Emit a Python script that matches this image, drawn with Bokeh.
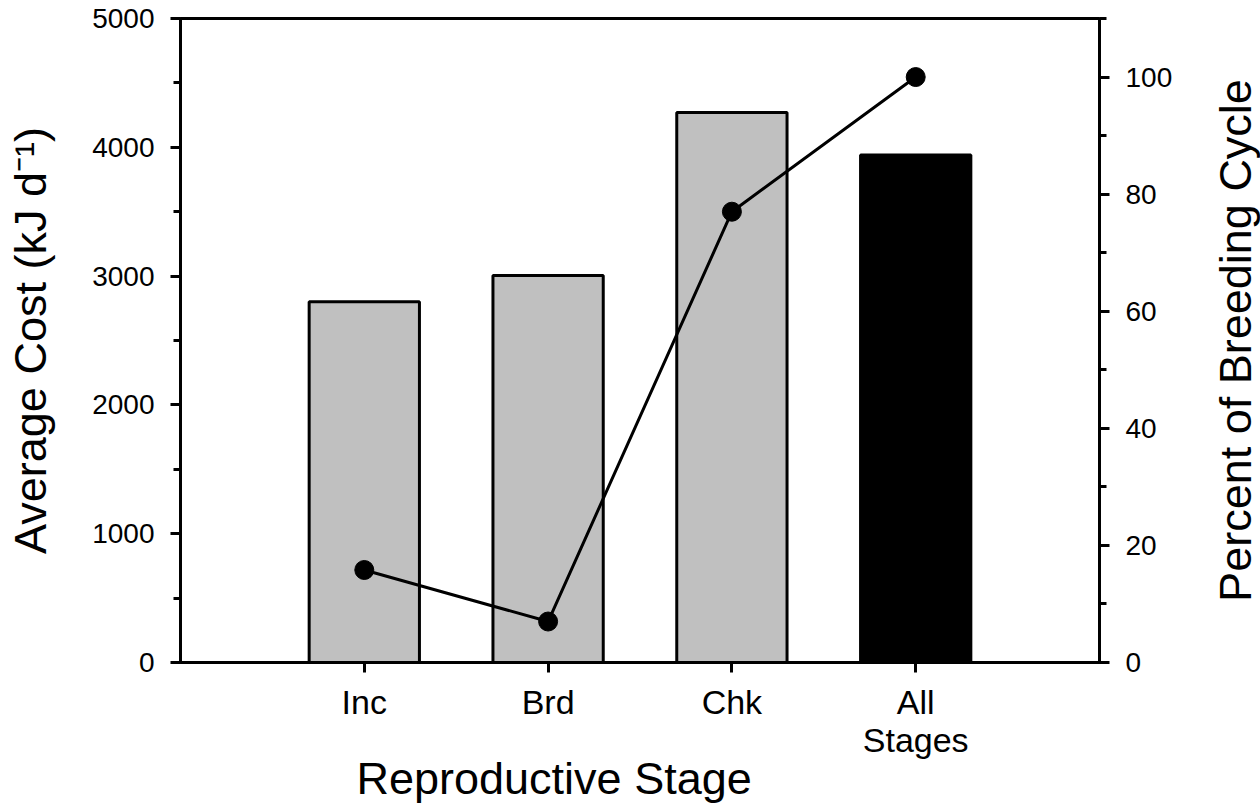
from bokeh.plotting import figure
from bokeh.layouts import row
from bokeh.models import (Range1d, LinearAxis, SingleIntervalTicker, FixedTicker,
                          Title, ColumnDataSource)
from bokeh.embed import file_html
from bokeh.resources import INLINE

# ---- data ----
stages = ["Inc", "Brd", "Chk", "All\nStages"]
stage_pos = [1, 2, 3, 4]
avg_cost = [2800, 3005, 4270, 3940]           # kJ d^-1
bar_colors = ["#C0C0C0", "#C0C0C0", "#C0C0C0", "#000000"]
pct_cycle = [15.8, 7.0, 77.0, 100.0]          # percent of breeding cycle

FONT = "Liberation Sans"

p = figure(width=1206, height=806, output_backend="svg", toolbar_location=None,
           x_range=Range1d(0, 5), y_range=Range1d(0, 5000),
           min_border_left=180, min_border_right=107,
           min_border_top=18, min_border_bottom=144)
p.extra_y_ranges = {"pct": Range1d(0, 110)}
p.grid.visible = False
p.outline_line_color = "black"
p.outline_line_width = 3
p.background_fill_color = "white"
p.border_fill_color = "white"

src = ColumnDataSource(dict(x=stage_pos, top=avg_cost, color=bar_colors, pct=pct_cycle))
p.vbar(x="x", top="top", width=0.6, bottom=0, fill_color="color",
       line_color="black", line_width=3, source=src)
p.line(x="x", y="pct", line_color="black", line_width=3, y_range_name="pct", source=src)
p.scatter(x="x", y="pct", size=19, fill_color="black", line_color="black",
          y_range_name="pct", source=src)

def style(ax, tick_size="28px"):
    ax.axis_line_width = 3
    ax.axis_line_color = "black"
    ax.major_tick_line_width = 3
    ax.minor_tick_line_width = 3
    ax.major_tick_in = 0
    ax.major_tick_out = 10
    ax.minor_tick_in = 0
    ax.minor_tick_out = 7
    ax.major_label_text_font = FONT
    ax.major_label_text_font_size = tick_size
    ax.major_label_text_color = "black"
    ax.axis_label_text_font = FONT
    ax.axis_label_text_font_size = "45px"
    ax.axis_label_text_font_style = "normal"
    ax.axis_label_text_color = "black"

# bottom axis
xa = p.xaxis[0]
xa.ticker = FixedTicker(ticks=stage_pos, minor_ticks=[])
xa.major_label_overrides = {k: v for k, v in zip(stage_pos, stages)}
style(xa, "34px")
xa.major_label_text_line_height = 1.0
xa.major_label_standoff = 10

# left axis
ya = p.yaxis[0]
ya.ticker = SingleIntervalTicker(interval=1000, num_minor_ticks=2)
style(ya)
ya.major_label_standoff = 16
ya.axis_label = "Average Cost (kJ d\u207b\u00b9)"
ya.axis_label_standoff = 33

# right axis (ticks + numbers)
ra = LinearAxis(y_range_name="pct", ticker=SingleIntervalTicker(interval=20, num_minor_ticks=2))
style(ra)
ra.major_label_standoff = 16
p.add_layout(ra, "right")

# x-axis title
p.add_layout(Title(text="Reproductive Stage", text_font=FONT, text_font_size="45px",
                   text_font_style="normal", text_color="black", align="left",
                   offset=176, standoff=-22), "below")

# narrow companion panel carrying the right-hand axis title (reads bottom to top)
p2 = figure(width=54, height=806, output_backend="svg", toolbar_location=None,
            x_range=Range1d(0, 1), y_range=Range1d(0, 1),
            min_border_left=0, min_border_right=0, min_border_top=0, min_border_bottom=140)
p2.grid.visible = False
p2.outline_line_color = None
p2.background_fill_color = "white"
p2.border_fill_color = "white"
p2.xaxis.visible = False
ya2 = p2.yaxis[0]
ya2.ticker = FixedTicker(ticks=[], minor_ticks=[])
ya2.axis_line_color = None
ya2.major_tick_line_color = None
ya2.minor_tick_line_color = None
ya2.major_label_text_font_size = "0px"
ya2.major_label_standoff = 0
ya2.major_tick_out = 0
ya2.minor_tick_out = 0
ya2.axis_label = "Percent of Breeding Cycle"
ya2.axis_label_text_font = FONT
ya2.axis_label_text_font_size = "45px"
ya2.axis_label_text_font_style = "normal"
ya2.axis_label_text_color = "black"
ya2.axis_label_standoff = 0

layout = row(p, p2, spacing=0)
open("out.html", "w").write(file_html(layout, INLINE))
